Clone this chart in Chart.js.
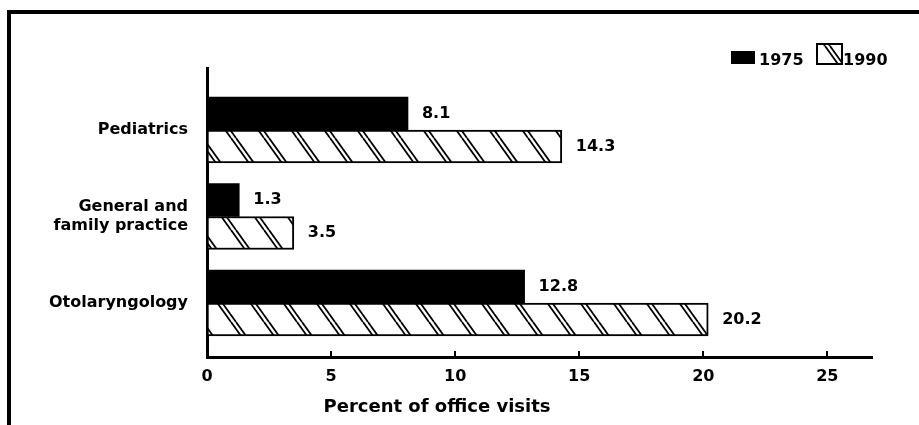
<!DOCTYPE html>
<html>
<head>
<meta charset="utf-8">
<script src="https://cdn.jsdelivr.net/npm/chart.js@4/dist/chart.umd.min.js"></script>
<style>
  html, body { margin: 0; padding: 0; background: #fff; }
  #wrap { position: relative; width: 919px; height: 425px; }
  #frame {
    position: absolute; left: 7px; top: 10px; right: 0; bottom: 0;
    border-top: 4px solid #000; border-left: 4px solid #000;
    pointer-events: none;
  }
</style>
</head>
<body>
<div id="wrap">
  <canvas id="chart" width="919" height="425"></canvas>
  <div id="frame"></div>
</div>
<script>
// ---- data ----
const categories = ['Pediatrics', 'General and\nfamily practice', 'Otolaryngology'];
const seriesNames = ['1975', '1990'];
const values1975 = [8.1, 1.3, 12.8];
const values1990 = [14.3, 3.5, 20.2];
const xTicks = [0, 5, 10, 15, 20, 25];
const xTitle = 'Percent of office visits';

const FONT = '"DejaVu Sans", "Liberation Sans", sans-serif';
Chart.defaults.font.family = FONT;
Chart.defaults.font.size = 16;
Chart.defaults.font.weight = 'bold';
Chart.defaults.color = '#000';

// double diagonal hatch used by the 1990 bars
function makeHatch(ctx) {
    const w = 33, h = 46;
    const c = document.createElement('canvas');
    c.width = w; c.height = h;
    const g = c.getContext('2d');
    g.fillStyle = '#fff';
    g.fillRect(0, 0, w, h);
    g.strokeStyle = '#000';
    g.lineWidth = 1.8;
    [0, 5].forEach(off => {
        for (let k = -1; k <= 1; k++) {
            const x0 = off + k * w;
            g.beginPath();
            g.moveTo(x0, 0);
            g.lineTo(x0 + w, h);
            g.stroke();
        }
    });
    return ctx.createPattern(c, 'repeat');
}

const canvas = document.getElementById('chart');
const ctx = canvas.getContext('2d');
const hatch = makeHatch(ctx);

// value labels, small upward tick marks, legend and axis title
const overlay = {
    id: 'overlay',
    afterDraw(chart) {
        const c = chart.ctx;
        const xs = chart.scales.x;
        const area = chart.chartArea;
        c.save();

        c.strokeStyle = '#000';
        c.lineWidth = 2;
        xTicks.forEach(v => {
            if (v === 0) return;
            const px = Math.round(xs.getPixelForValue(v));
            c.beginPath();
            c.moveTo(px, area.bottom);
            c.lineTo(px, area.bottom - 6);
            c.stroke();
        });

        c.fillStyle = '#000';
        c.font = 'bold 16px ' + FONT;
        c.textBaseline = 'middle';
        c.textAlign = 'left';
        chart.data.datasets.forEach((ds, di) => {
            chart.getDatasetMeta(di).data.forEach((bar, i) => {
                c.fillText(ds.data[i].x.toFixed(1), bar.x + 14, bar.y);
            });
        });

        // legend
        const d0 = chart.data.datasets[0], d1 = chart.data.datasets[1];
        c.fillStyle = d0.backgroundColor;
        c.fillRect(731, 51, 24, 13);
        c.fillStyle = d1.backgroundColor;
        c.fillRect(817, 44, 25, 20);
        c.strokeRect(817, 44, 25, 20);
        c.fillStyle = '#000';
        c.fillText(seriesNames[0], 759, 61);
        c.fillText(seriesNames[1], 843, 61);

        // x axis title
        c.font = 'bold 18px ' + FONT;
        c.textAlign = 'center';
        c.fillText(xTitle, 437, 407);
        c.restore();
    }
};

new Chart(canvas, {
    type: 'bar',
    data: {
        datasets: [
            {
                label: seriesNames[0],
                data: values1975.map((v, i) => ({ x: v, y: i })),
                backgroundColor: '#000',
                borderWidth: 0,
                barThickness: 33
            },
            {
                label: seriesNames[1],
                data: values1990.map((v, i) => ({ x: v, y: i })),
                backgroundColor: hatch,
                borderColor: '#000',
                borderWidth: 2,
                borderSkipped: false,
                barThickness: 33
            }
        ]
    },
    options: {
        indexAxis: 'y',
        responsive: false,
        animation: false,
        layout: { padding: { top: 68, right: 47, left: 0, bottom: 0 } },
        plugins: {
            legend: { display: false },
            tooltip: { enabled: false }
        },
        scales: {
            x: {
                type: 'linear',
                position: 'bottom',
                min: 0,
                max: 26.8,
                afterFit: s => { s.height = 68; },
                afterBuildTicks: s => { s.ticks = xTicks.map(v => ({ value: v })); },
                grid: { display: false },
                border: { display: true, color: '#000', width: 3 },
                ticks: { padding: 2, color: '#000', font: { size: 16, weight: 'bold' } }
            },
            y: {
                type: 'linear',
                reverse: true,
                offset: false,
                min: -0.717,
                max: 2.624,
                afterFit: s => { s.width = 207; },
                afterBuildTicks: s => { s.ticks = categories.map((c, i) => ({ value: i })); },
                grid: { display: false },
                border: { display: true, color: '#000', width: 3 },
                ticks: {
                    padding: 11,
                    color: '#000',
                    font: { size: 16, weight: 'bold', lineHeight: 1.2 },
                    callback: v => categories[v] ? categories[v].split('\n') : ''
                }
            }
        }
    },
    plugins: [overlay]
});
</script>
</body>
</html>
